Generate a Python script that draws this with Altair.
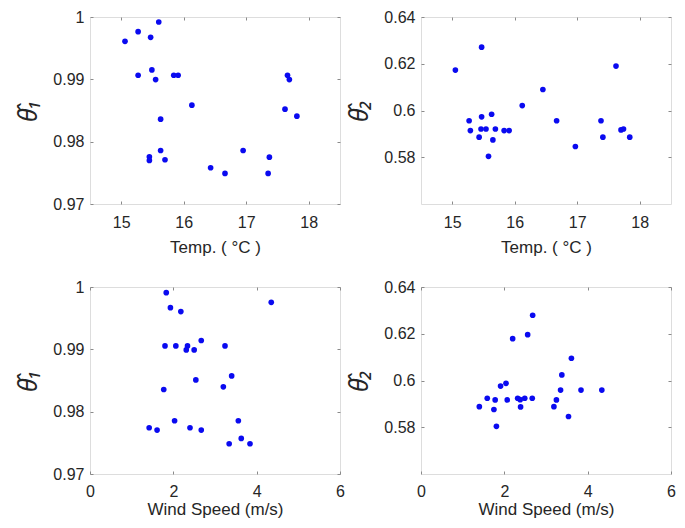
import altair as alt
import pandas as pd

# ---- Panel 1: Temperature vs theta1 ----
temp_p1 = [15.06, 15.27, 15.47, 15.60, 15.27, 15.49, 15.55, 15.84, 15.91, 16.13,
           15.63, 15.63, 15.45, 15.45, 15.70, 16.43, 16.66, 16.95, 17.37, 17.35,
           17.66, 17.69, 17.62, 17.81]
theta1_p1 = [0.9961, 0.99765, 0.99674, 0.9992, 0.99066, 0.99151, 0.98996, 0.99066, 0.99066, 0.98585,
             0.98361, 0.97859, 0.97758, 0.97699, 0.97710, 0.97581, 0.97491, 0.97859, 0.97752, 0.97491,
             0.99066, 0.98996, 0.98521, 0.98409]

# ---- Panel 2: Temperature vs theta2 ----
temp_p2 = [15.05, 15.47, 15.27, 15.29, 15.47, 15.46, 15.54, 15.43, 15.63, 15.69,
           15.65, 15.58, 15.83, 15.91, 16.12, 16.45, 16.67, 16.97, 17.38, 17.41,
           17.62, 17.70, 17.74, 17.84]
theta2_p2 = [0.6173, 0.6271, 0.5956, 0.5914, 0.5973, 0.5921, 0.5921, 0.5886, 0.5984, 0.5921,
             0.5874, 0.5804, 0.5914, 0.5914, 0.6021, 0.6090, 0.5956, 0.5846, 0.5956, 0.5886,
             0.6190, 0.5917, 0.5921, 0.5886]

# ---- Panel 3: Wind speed vs theta1 ----
wind_p3 = [1.83, 1.93, 2.18, 4.35, 1.80, 2.06, 2.34, 2.31, 2.50, 2.67,
           3.24, 3.40, 2.54, 3.20, 1.77, 2.03, 1.42, 1.61, 2.40, 2.67,
           3.56, 3.63, 3.34, 3.84]
theta1_p3 = [0.99909, 0.99669, 0.99605, 0.99754, 0.99055, 0.99055, 0.99055, 0.98991, 0.98991, 0.99141,
             0.99055, 0.98574, 0.98510, 0.98398, 0.98356, 0.97854, 0.97742, 0.97704, 0.97742, 0.97704,
             0.97854, 0.97571, 0.97485, 0.97485]

# ---- Panel 4: Wind speed vs theta2 ----
wind_p4 = [1.40, 1.59, 1.78, 1.75, 1.81, 1.91, 2.04, 2.07, 2.20, 2.32,
           2.38, 2.39, 2.49, 2.56, 2.67, 2.68, 3.19, 3.25, 3.35, 3.38,
           3.61, 3.54, 3.84, 4.34]
theta2_p4 = [0.5888, 0.5924, 0.5917, 0.5876, 0.5804, 0.5976, 0.5988, 0.5917, 0.6179, 0.5924,
             0.5918, 0.5887, 0.5924, 0.6196, 0.5924, 0.6279, 0.5888, 0.5917, 0.5959, 0.6024,
             0.6095, 0.5846, 0.5959, 0.5959]

temp_domain = [14.5, 18.5]
wind_domain = [0, 6]
theta1_domain = [0.97, 1.0]
theta2_domain = [0.56, 0.64]
temp_ticks = [15, 16, 17, 18]
wind_ticks = [0, 2, 4, 6]
theta1_ticks = [0.97, 0.98, 0.99, 1.0]
theta2_ticks = [0.58, 0.60, 0.62, 0.64]

temp_title = "Temp. ( \u00b0C )"
wind_title = "Wind Speed (m/s)"
theta1_title = "\u03b8\u0302\u2081"
theta2_title = "\u03b8\u0302\u2082"

FRAME = "#8a8a8a"
TEXT = "#262626"
DOT = "#0a0af0"
W, H = 250, 187


def panel(xv, yv, xdom, ydom, xt, yt, xtitle, ytitle, lpad, xtpad):
    df = pd.DataFrame({"x": xv, "y": yv})
    xs = alt.Scale(domain=xdom, nice=False, zero=False)
    ys = alt.Scale(domain=ydom, nice=False, zero=False)
    common = dict(offset=-3, tickSize=3, tickColor=FRAME, tickWidth=1,
                  domain=False, grid=False, labelFlush=False)
    pts = alt.Chart(df).mark_circle(size=32, color=DOT, opacity=1).encode(
        x=alt.X("x:Q", scale=xs, axis=alt.Axis(
            values=xt, title=xtitle, orient="bottom", format="d",
            labelPadding=lpad, titlePadding=xtpad, labelFontSize=16, titleFontSize=17,
            labelFont="Liberation Sans", titleFont="Liberation Sans",
            labelColor=TEXT, titleColor=TEXT, titleFontWeight="normal", **common)),
        y=alt.Y("y:Q", scale=ys, axis=alt.Axis(
            values=yt, title=ytitle, orient="left", format=".2~f",
            labelPadding=6, titlePadding=11, labelFontSize=16, titleFontSize=25,
            labelFont="Liberation Sans", titleFont="Noto Sans",
            titleFontStyle="italic", titleFontWeight="normal",
            labelColor=TEXT, titleColor=TEXT, **common)),
    )
    ticks = alt.Chart(df).mark_circle(size=1, opacity=0).encode(
        x=alt.X("x:Q", scale=xs, axis=alt.Axis(
            values=xt, title=None, orient="top", labels=False, **common)),
        y=alt.Y("y:Q", scale=ys, axis=alt.Axis(
            values=yt, title=None, orient="right", labels=False, **common)),
    )
    return alt.layer(pts, ticks).resolve_axis(
        x="independent", y="independent").properties(width=W, height=H)


p1 = panel(temp_p1, theta1_p1, temp_domain, theta1_domain, temp_ticks, theta1_ticks,
           temp_title, theta1_title, 10, 9)
p2 = panel(temp_p2, theta2_p2, temp_domain, theta2_domain, temp_ticks, theta2_ticks,
           temp_title, theta2_title, 10, 9)
p3 = panel(wind_p3, theta1_p3, wind_domain, theta1_domain, wind_ticks, theta1_ticks,
           wind_title, theta1_title, 9, 2)
p4 = panel(wind_p4, theta2_p4, wind_domain, theta2_domain, wind_ticks, theta2_ticks,
           wind_title, theta2_title, 9, 2)

chart = alt.concat(p1, p2, p3, p4, columns=2, spacing={"row": 83, "column": 81},
                   bounds="flush").properties(
    padding={"left": 8, "top": 0, "right": 0, "bottom": 0}
).configure_view(
    stroke=FRAME, strokeWidth=1
).configure(background="white")

chart.save("out.html", embed_options={"renderer": "svg", "actions": False})
